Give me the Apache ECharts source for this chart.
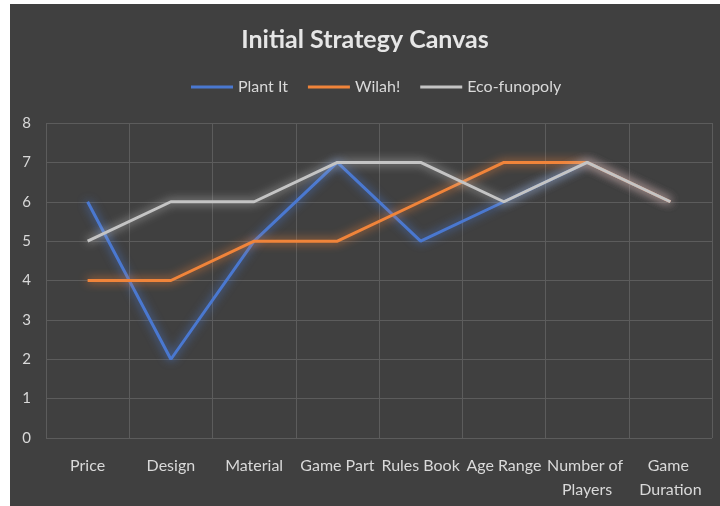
<!DOCTYPE html>
<html><head><meta charset="utf-8">
<script src="https://cdn.jsdelivr.net/npm/echarts@6/dist/echarts.min.js"></script>
<style>
html,body{margin:0;padding:0;background:#ffffff;width:720px;height:506px;overflow:hidden}
#c{position:absolute;left:10px;top:4px;width:710px;height:502px;background:#404040}
</style></head>
<body><div id="c"></div>
<script>
const categories = ["Price", "Design", "Material", "Game Part", "Rules Book", "Age Range", "Number of Players", "Game Duration"];
const plantIt = [6, 2, 5, 7, 5, 6, 7, 6];
const wilah = [4, 4, 5, 5, 6, 7, 7, 6];
const ecoFunopoly = [5, 6, 6, 7, 7, 6, 7, 6];
const yTicks = [0, 1, 2, 3, 4, 5, 6, 7, 8];

const chart = echarts.init(document.getElementById('c'));
const FONT = 'Lato';
function mk(name, data, color) {
  return {
    name: name, type: 'line', data: data, symbol: 'none',
    lineStyle: {color: color, width: 3, shadowColor: color, shadowBlur: 10},
    itemStyle: {color: color}
  };
}
chart.setOption({
  backgroundColor: '#404040',
  animation: false,
  title: {
    text: 'Initial Strategy Canvas', left: 'center', top: 18,
    textStyle: {color: '#e6e6e6', fontSize: 25, fontWeight: 'bold', fontFamily: FONT}
  },
  legend: {
    top: 70, left: 176, icon: 'rect', itemWidth: 42, itemHeight: 3, itemGap: 20,
    textStyle: {color: '#d9d9d9', fontSize: 16, fontFamily: FONT},
    data: ['Plant It', 'Wilah!', 'Eco-funopoly']
  },
  grid: {left: 36, right: 8, top: 119, bottom: 68, containLabel: false},
  xAxis: {
    type: 'category', data: categories, boundaryGap: true,
    axisLine: {show: false}, axisTick: {show: false},
    splitLine: {show: true, lineStyle: {color: '#5c5c5c', width: 1}},
    axisLabel: {color: '#d9d9d9', fontSize: 16, fontFamily: FONT, margin: 16, interval: 0,
      width: 84, overflow: 'break', lineHeight: 24}
  },
  yAxis: {
    type: 'value', min: yTicks[0], max: yTicks[yTicks.length - 1], interval: 1,
    axisLine: {show: false}, axisTick: {show: false},
    splitLine: {lineStyle: {color: '#5c5c5c', width: 1}},
    axisLabel: {color: '#d9d9d9', fontSize: 15, fontFamily: FONT, margin: 15}
  },
  series: [
    mk('Plant It', plantIt, '#4a78d0'),
    mk('Wilah!', wilah, '#f0843a'),
    mk('Eco-funopoly', ecoFunopoly, '#c4c4c4')
  ]
});
</script></body></html>
